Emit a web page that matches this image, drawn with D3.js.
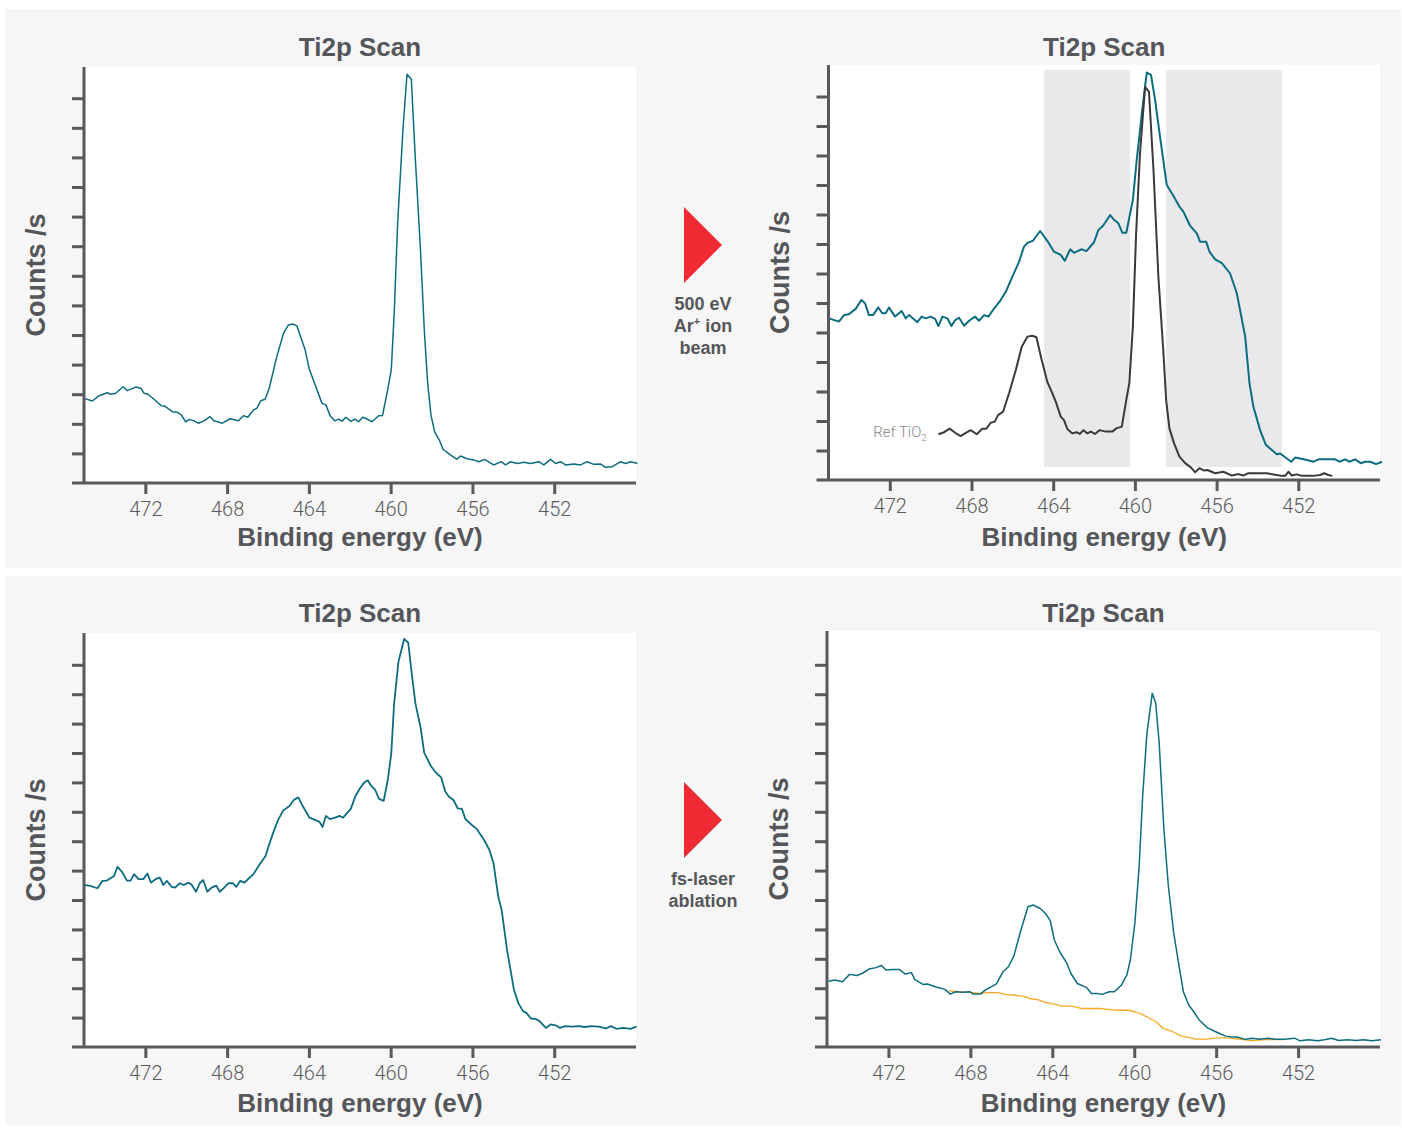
<!DOCTYPE html>
<html>
<head>
<meta charset="utf-8">
<script src="https://cdn.jsdelivr.net/npm/d3@7"></script>
<style>
  body { margin: 0; background: #fff; }
  svg { display: block; font-family: "Liberation Sans", Arial, Helvetica, sans-serif; }
  .tick text { font-family: Roboto, "Liberation Sans", sans-serif; font-weight: 300; font-size: 20px; fill: #5a5b5d; }
</style>
</head>
<body>
<svg id="chart" width="1402" height="1128"></svg>
<script>
// ---- values: [binding energy (eV), counts (axis units)]
var xTicks = [472, 468, 464, 460, 456, 452];
var yTicks = [1, 2, 3, 4, 5, 6, 7, 8, 9, 10, 11, 12, 13];

var beforeIonBeam = [[475,2.86],[474.59,2.77],[474.26,2.95],[473.86,3.05],[473.69,3.0],[473.45,3.03],[473.09,3.25],[472.88,3.12],[472.47,3.24],[472.22,3.2],[472.06,3.03],[471.87,3.0],[471.49,2.78],[471.22,2.61],[471.05,2.6],[470.68,2.41],[470.43,2.39],[470.24,2.3],[470.03,2.07],[469.83,2.15],[469.62,2.1],[469.41,2.02],[469.13,2.1],[468.84,2.24],[468.64,2.1],[468.23,2.02],[467.85,2.17],[467.45,2.1],[467.2,2.27],[466.99,2.22],[466.71,2.47],[466.55,2.52],[466.35,2.78],[466.14,2.83],[465.94,3.2],[465.57,4.27],[465.24,5.06],[465.0,5.34],[464.8,5.37],[464.59,5.31],[464.18,4.49],[463.99,3.87],[463.69,3.31],[463.36,2.69],[463.17,2.64],[462.95,2.26],[462.74,2.1],[462.55,2.16],[462.38,2.09],[462.19,2.22],[461.94,2.08],[461.76,2.16],[461.57,2.07],[461.37,2.22],[461.16,2.16],[460.91,2.07],[460.59,2.27],[460.4,2.28],[460.18,3.03],[459.97,3.82],[459.82,5.84],[459.66,8.77],[459.39,12.04],[459.2,13.81],[458.99,13.64],[458.79,10.91],[458.55,7.98],[458.35,5.11],[458.19,3.37],[458.03,2.3],[457.85,1.73],[457.62,1.45],[457.44,1.14],[457.08,0.95],[456.76,0.8],[456.59,0.91],[456.26,0.82],[455.94,0.78],[455.69,0.72],[455.41,0.8],[454.96,0.61],[454.6,0.72],[454.38,0.61],[454.14,0.72],[453.81,0.66],[453.49,0.7],[453.16,0.66],[452.75,0.72],[452.51,0.61],[452.18,0.8],[451.94,0.66],[451.69,0.72],[451.45,0.61],[451.04,0.64],[450.71,0.61],[450.39,0.72],[450.06,0.63],[449.73,0.64],[449.49,0.53],[449.16,0.55],[448.75,0.72],[448.51,0.66],[448.26,0.72],[447.93,0.66]];

var afterIonBeam = [[474.98,5.48],[474.49,5.37],[474.24,5.59],[474.0,5.62],[473.67,5.8],[473.39,6.1],[473.21,5.99],[473.02,5.59],[472.82,5.59],[472.56,5.85],[472.37,5.65],[472.2,5.65],[472.04,5.85],[471.74,5.54],[471.42,5.73],[471.22,5.48],[471.06,5.59],[470.65,5.35],[470.44,5.54],[470.24,5.48],[470.0,5.54],[469.78,5.46],[469.62,5.22],[469.42,5.54],[469.18,5.48],[468.98,5.22],[468.8,5.42],[468.61,5.5],[468.36,5.23],[468.12,5.4],[467.83,5.54],[467.63,5.4],[467.38,5.59],[467.17,5.54],[466.98,5.73],[466.57,6.1],[466.32,6.38],[466.03,6.84],[465.67,7.4],[465.43,7.91],[465.26,8.04],[464.99,8.11],[464.64,8.44],[464.28,8.1],[463.96,7.74],[463.63,7.63],[463.43,7.43],[463.17,7.82],[462.98,7.7],[462.62,7.82],[462.37,7.76],[462.0,8.06],[461.79,8.47],[461.56,8.62],[461.21,8.98],[461.05,8.84],[460.81,8.7],[460.61,8.38],[460.42,8.38],[460.1,9.49],[459.91,10.85],[459.66,12.43],[459.42,13.81],[459.21,13.73],[459.01,12.88],[458.77,11.64],[458.44,10.0],[458.14,9.66],[457.82,9.27],[457.62,9.09],[457.3,8.62],[456.97,8.36],[456.81,8.08],[456.51,8.08],[456.35,7.74],[456.07,7.48],[455.74,7.35],[455.34,7.0],[455.01,6.33],[454.6,4.86],[454.39,3.28],[454.2,2.49],[453.87,1.69],[453.59,1.19],[453.38,1.07],[453.05,0.87],[452.89,0.9],[452.64,0.77],[452.35,0.62],[452.15,0.76],[451.91,0.73],[451.58,0.68],[451.26,0.62],[451.01,0.7],[450.6,0.7],[450.2,0.7],[449.99,0.62],[449.71,0.7],[449.5,0.62],[449.22,0.7],[448.94,0.57],[448.73,0.62],[448.48,0.62],[448.19,0.54],[447.9,0.62]];

var refTiO2 = [[469.62,1.55],[469.34,1.62],[469.07,1.74],[468.8,1.6],[468.53,1.49],[468.28,1.6],[468.04,1.69],[467.74,1.55],[467.47,1.74],[467.27,1.74],[467.06,1.94],[466.86,1.98],[466.7,2.2],[466.45,2.32],[466.16,2.94],[465.83,3.73],[465.54,4.52],[465.26,4.86],[465.02,4.89],[464.82,4.84],[464.58,4.12],[464.29,3.33],[464.07,2.99],[463.87,2.65],[463.63,2.15],[463.47,2.03],[463.31,1.73],[463.06,1.58],[462.86,1.62],[462.7,1.56],[462.52,1.69],[462.33,1.58],[462.16,1.64],[461.96,1.56],[461.72,1.69],[461.43,1.64],[461.1,1.64],[460.91,1.75],[460.64,1.81],[460.45,2.6],[460.27,3.3],[460.1,5.2],[459.94,8.36],[459.75,11.07],[459.5,13.33],[459.31,13.16],[459.09,10.51],[458.85,6.89],[458.6,4.29],[458.47,2.71],[458.31,1.75],[458.08,1.24],[457.82,0.79],[457.54,0.57],[457.26,0.43],[457.05,0.26],[456.84,0.4],[456.61,0.32],[456.45,0.34],[456.07,0.23],[455.67,0.28],[455.25,0.15],[454.93,0.2],[454.69,0.15],[454.44,0.23],[454.03,0.23],[453.54,0.23],[453.22,0.19],[452.81,0.14],[452.64,0.14],[452.48,0.28],[452.32,0.15],[452.07,0.19],[451.83,0.14],[451.26,0.14],[450.93,0.17],[450.73,0.23],[450.53,0.17],[450.33,0.14]];

var ionDamageBands = [[464.45, 460.24], [458.47, 452.8]];
var bandCounts = [0.44, 13.9];

var beforeLaser = [[475,5.51],[474.74,5.49],[474.34,5.4],[474.1,5.65],[473.88,5.66],[473.53,5.82],[473.36,6.13],[473.14,5.96],[472.9,5.66],[472.72,5.66],[472.55,5.88],[472.33,5.71],[472.1,5.71],[471.9,5.9],[471.72,5.59],[471.47,5.72],[471.29,5.76],[471.12,5.51],[470.95,5.65],[470.72,5.45],[470.55,5.42],[470.31,5.57],[470.12,5.51],[469.88,5.59],[469.74,5.53],[469.52,5.28],[469.34,5.57],[469.17,5.68],[468.97,5.28],[468.76,5.42],[468.53,5.49],[468.36,5.28],[468.14,5.42],[467.93,5.57],[467.72,5.57],[467.55,5.45],[467.36,5.65],[467.16,5.59],[466.93,5.74],[466.69,5.9],[466.43,6.19],[466.12,6.5],[465.95,6.87],[465.74,7.3],[465.52,7.7],[465.26,8.04],[464.95,8.2],[464.74,8.4],[464.52,8.49],[464.28,8.17],[463.97,7.8],[463.62,7.7],[463.48,7.66],[463.33,7.48],[463.17,7.86],[462.97,7.75],[462.72,7.8],[462.5,7.86],[462.33,7.8],[461.95,8.1],[461.72,8.54],[461.5,8.8],[461.29,9.0],[461.12,9.07],[460.95,8.88],[460.76,8.75],[460.57,8.44],[460.34,8.37],[460.14,9.09],[459.97,9.99],[459.83,11.69],[459.62,13.1],[459.34,13.88],[459.14,13.75],[458.97,12.71],[458.79,11.69],[458.53,10.84],[458.36,10.01],[458.02,9.54],[457.76,9.31],[457.53,9.17],[457.33,8.69],[457.16,8.52],[456.93,8.4],[456.72,8.12],[456.52,8.1],[456.34,7.75],[456.03,7.55],[455.78,7.41],[455.43,7.04],[455.17,6.7],[454.97,6.25],[454.74,5.12],[454.57,4.66],[454.31,3.31],[453.97,1.95],[453.76,1.5],[453.53,1.22],[453.36,1.16],[453.14,0.97],[452.93,0.96],[452.72,0.88],[452.41,0.65],[452.16,0.77],[451.9,0.73],[451.72,0.65],[451.47,0.71],[451.12,0.69],[450.78,0.71],[450.52,0.68],[450.17,0.71],[449.83,0.69],[449.48,0.63],[449.22,0.71],[448.97,0.62],[448.62,0.65],[448.28,0.62],[447.97,0.69]];

var afterLaser = [[474.93,2.24],[474.62,2.28],[474.24,2.22],[473.9,2.47],[473.55,2.43],[473.29,2.5],[472.95,2.65],[472.6,2.7],[472.34,2.77],[472.12,2.62],[471.83,2.64],[471.48,2.64],[471.17,2.48],[470.88,2.53],[470.71,2.29],[470.31,2.13],[470.1,2.14],[469.67,2.04],[469.24,1.96],[468.98,1.8],[468.72,1.88],[468.38,1.86],[468.03,1.88],[467.86,1.8],[467.52,1.8],[467.26,1.94],[466.74,2.14],[466.4,2.56],[466.14,2.73],[465.88,3.09],[465.53,3.98],[465.19,4.77],[464.93,4.83],[464.59,4.71],[464.33,4.54],[464.1,4.3],[463.9,3.64],[463.64,3.24],[463.29,2.85],[463.09,2.5],[462.78,2.16],[462.34,2.03],[462.09,1.82],[461.83,1.82],[461.57,1.79],[461.22,1.88],[460.97,1.88],[460.62,2.11],[460.36,2.45],[460.19,2.96],[459.97,4.2],[459.76,6.13],[459.59,8.51],[459.38,10.67],[459.12,12.03],[458.95,11.69],[458.78,10.33],[458.55,7.38],[458.33,5.45],[458.07,3.87],[457.86,2.96],[457.6,1.88],[457.34,1.43],[457.09,1.2],[456.83,0.92],[456.4,0.64],[455.97,0.5],[455.53,0.37],[455.28,0.35],[454.93,0.33],[454.59,0.26],[454.24,0.3],[453.9,0.26],[453.47,0.3],[453.12,0.26],[452.69,0.26],[452.17,0.3],[451.91,0.21],[451.48,0.25],[451.05,0.21],[450.71,0.25],[450.36,0.3],[450.02,0.22],[449.59,0.25],[449.16,0.22],[448.81,0.25],[448.38,0.21],[447.95,0.25]];

var laserBackground = [[469.07,1.91],[468.55,1.88],[468.03,1.86],[467.52,1.82],[467.17,1.85],[466.66,1.85],[466.31,1.79],[465.79,1.76],[465.45,1.73],[465.1,1.65],[464.67,1.6],[464.33,1.52],[463.9,1.46],[463.55,1.39],[463.03,1.39],[462.6,1.31],[462.17,1.31],[461.66,1.31],[461.22,1.27],[460.79,1.25],[460.28,1.25],[459.93,1.19],[459.59,1.1],[459.24,0.97],[458.9,0.84],[458.59,0.63],[458.12,0.52],[457.69,0.37],[457.34,0.33],[457.0,0.27],[456.48,0.27],[455.97,0.31],[455.45,0.31],[454.93,0.27],[454.24,0.22],[453.55,0.25],[452.69,0.25]];

// ---- styling
var TEAL = '#0d6c80', DARK = '#3a3a3a', ORANGE = '#f7a823';
var AXIS = '#58595b', LABEL = '#55565a';

var svg = d3.select('#chart');

// grey backdrops, one per row
svg.append('rect').attr('x', 5).attr('y', 9).attr('width', 1396).attr('height', 559).attr('fill', '#f6f6f6');
svg.append('rect').attr('x', 5).attr('y', 576).attr('width', 1396).attr('height', 549).attr('fill', '#f6f6f6');

var panels = [
  { left: 84, right: 636, bottom: 483, top: 67, unit: 29.6, titleY: 56, xLabelY: 545.5,
    series: [{ data: beforeIonBeam, color: TEAL, width: 1.5 }] },
  { left: 828.5, right: 1380, bottom: 480, top: 65, unit: 29.5, titleY: 56, xLabelY: 545.5,
    bands: ionDamageBands,
    series: [{ data: afterIonBeam, color: TEAL, width: 2 }, { data: refTiO2, color: DARK, width: 2 }],
    note: true },
  { left: 84, right: 636, bottom: 1047, top: 633, unit: 29.4, titleY: 621.5, xLabelY: 1111.5,
    series: [{ data: beforeLaser, color: TEAL, width: 1.8 }] },
  { left: 827, right: 1380, bottom: 1047, top: 631, unit: 29.4, titleY: 621.5, xLabelY: 1111.5,
    series: [{ data: laserBackground, color: ORANGE, width: 1.3 }, { data: afterLaser, color: TEAL, width: 1.5 }] }
];

panels.forEach(drawPlot);

function drawPlot(p) {
  var g = svg.append('g');
  var x = d3.scaleLinear().domain([475, 448]).range([p.left, p.right]);
  var y = d3.scaleLinear().domain([0, 14]).range([p.bottom, p.bottom - 14 * p.unit]);

  g.append('rect')
    .attr('x', p.left).attr('y', p.top)
    .attr('width', p.right - p.left).attr('height', p.bottom - p.top)
    .attr('fill', '#fff');

  (p.bands || []).forEach(function(b) {
    g.append('rect')
      .attr('x', x(b[0])).attr('width', x(b[1]) - x(b[0]))
      .attr('y', y(bandCounts[1])).attr('height', y(bandCounts[0]) - y(bandCounts[1]))
      .attr('fill', '#e9e9ec');
  });

  var line = d3.line().x(function(d) { return x(d[0]); }).y(function(d) { return y(d[1]); });
  p.series.forEach(function(s) {
    g.append('path').datum(s.data)
      .attr('d', line)
      .attr('fill', 'none')
      .attr('stroke', s.color)
      .attr('stroke-width', s.width)
      .attr('stroke-linejoin', 'round');
  });

  if (p.note) {
    var t = g.append('text')
      .attr('x', x(refTiO2[0][0]) - 12).attr('y', y(refTiO2[0][1]) + 3)
      .attr('text-anchor', 'end')
      .style('font-family', 'Roboto, "Liberation Sans", sans-serif')
      .style('font-weight', 300)
      .style('font-size', '15px')
      .attr('fill', '#858585');
    t.append('tspan').text('Ref TiO');
    t.append('tspan').attr('dy', 4).style('font-size', '9px').text('2');
  }

  // axes
  var xa = g.append('g').attr('transform', 'translate(0,' + p.bottom + ')')
    .call(d3.axisBottom(x).tickValues(xTicks).tickSize(11).tickSizeOuter(0).tickPadding(8).tickFormat(d3.format('d')));
  xa.select('.domain').remove();
  xa.selectAll('.tick line').attr('stroke', AXIS).attr('stroke-width', 3);

  var ya = g.append('g').attr('transform', 'translate(' + p.left + ',0)')
    .call(d3.axisLeft(y).tickValues(yTicks).tickSize(12).tickSizeOuter(0).tickFormat(''));
  ya.select('.domain').remove();
  ya.selectAll('.tick line').attr('stroke', AXIS).attr('stroke-width', 3);

  g.append('line').attr('x1', p.left - 12).attr('x2', p.right).attr('y1', p.bottom).attr('y2', p.bottom)
    .attr('stroke', AXIS).attr('stroke-width', 3);
  g.append('line').attr('x1', p.left).attr('x2', p.left).attr('y1', p.bottom).attr('y2', p.top)
    .attr('stroke', AXIS).attr('stroke-width', 3);

  var cx = (p.left + p.right) / 2;
  g.append('text').attr('x', cx).attr('y', p.titleY).attr('text-anchor', 'middle')
    .attr('font-size', 26).attr('font-weight', 'bold').attr('fill', LABEL).text('Ti2p Scan');
  g.append('text').attr('x', cx).attr('y', p.xLabelY).attr('text-anchor', 'middle')
    .attr('font-size', 26).attr('font-weight', 'bold').attr('fill', LABEL).text('Binding energy (eV)');
  g.append('text')
    .attr('transform', 'translate(' + (p.left - 39.5) + ',' + ((p.bottom + p.top) / 2) + ') rotate(-90)')
    .attr('text-anchor', 'middle')
    .attr('font-size', 27).attr('font-weight', 'bold').attr('fill', LABEL).text('Counts /s');
}

// process arrows between the rows
var steps = [
  { cy: 245, lines: [['500 eV'], ['Ar', '+', ' ion'], ['beam']], firstBase: 310 },
  { cy: 820, lines: [['fs-laser'], ['ablation']], firstBase: 885 }
];
steps.forEach(function(s) {
  svg.append('path')
    .attr('d', 'M684,' + (s.cy - 38) + 'L722,' + s.cy + 'L684,' + (s.cy + 38) + 'Z')
    .attr('fill', '#ee2b33');
  s.lines.forEach(function(parts, i) {
    var t = svg.append('text').attr('x', 703).attr('y', s.firstBase + i * 22)
      .attr('text-anchor', 'middle').attr('font-size', 18).attr('font-weight', 'bold').attr('fill', LABEL);
    if (parts.length === 1) {
      t.text(parts[0]);
    } else {
      t.append('tspan').text(parts[0]);
      t.append('tspan').attr('dy', -7).attr('font-size', 11).text(parts[1]);
      t.append('tspan').attr('dy', 7).text(parts[2]);
    }
  });
});
</script>
</body>
</html>
